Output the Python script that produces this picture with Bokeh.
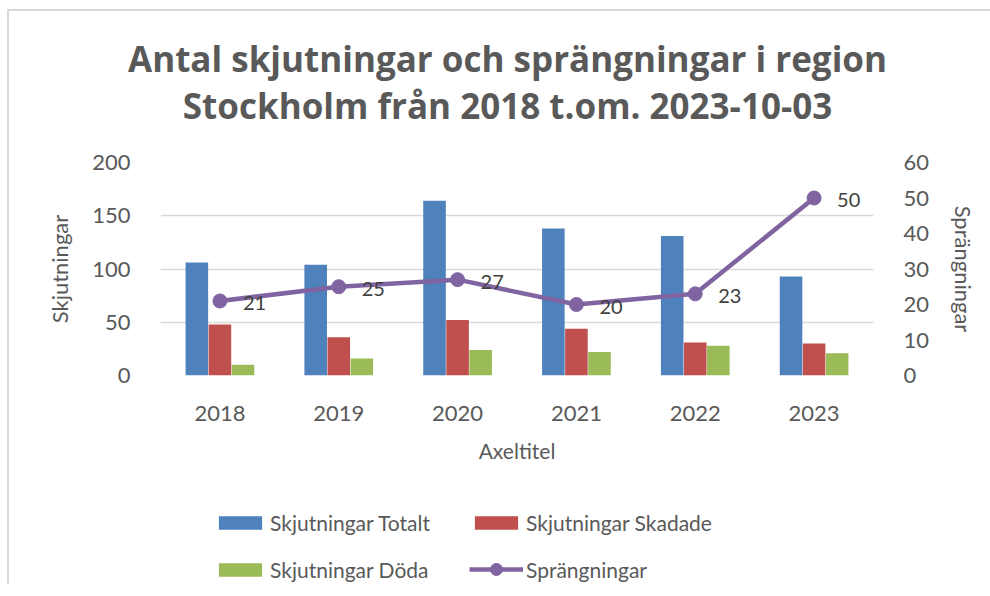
from bokeh.plotting import figure
from bokeh.layouts import column
from bokeh.models import (ColumnDataSource, FactorRange, Range1d, LinearAxis, FixedTicker,
                          LabelSet, Legend, LegendItem, GlobalInlineStyleSheet)
from bokeh.core.properties import value
from bokeh.transform import dodge
from bokeh.embed import file_html
from bokeh.resources import INLINE

title_lines = ["Antal skjutningar och sprängningar i region",
               "Stockholm från 2018 t.om. 2023-10-03"]
years = ["2018", "2019", "2020", "2021", "2022", "2023"]
totalt = [106, 104, 164, 138, 131, 93]
skadade = [48, 36, 52, 44, 31, 30]
doda = [10, 16, 24, 22, 28, 21]
sprang = [21, 25, 27, 20, 23, 50]
spr_labels = [str(v) for v in sprang]
series_names = ["Skjutningar Totalt", "Skjutningar Skadade", "Skjutningar Döda", "Sprängningar"]

BLUE = "#4F81BD"
RED = "#C0504D"
GREEN = "#9BBB59"
PURPLE = "#8064A2"
TXT = "#595959"
GRID = "#D9D9D9"
FONT = "Lato"
W = 990

src = ColumnDataSource(dict(years=years, totalt=totalt, skadade=skadade, doda=doda,
                            sprang=sprang, lab=spr_labels))


def bare(fig):
    fig.outline_line_color = None
    fig.xgrid.grid_line_color = None
    fig.ygrid.grid_line_color = None
    fig.border_fill_color = None
    fig.background_fill_color = None
    if "frame_align" in fig.properties():
        fig.frame_align = False


# ---------- header with the two-line title ----------
HH = 140
hd = figure(width=W, height=HH, x_range=Range1d(0, W), y_range=Range1d(HH, 0),
            output_backend="svg", toolbar_location=None, x_axis_type=None, y_axis_type=None,
            min_border=0)
bare(hd)
hd.text(x=[507, 507], y=[58, 105], text=title_lines, text_align="center",
        text_baseline="middle", text_font=value("Open Sans"), text_font_size="35px",
        text_font_style="bold", text_color=TXT)

# ---------- main chart ----------
p = figure(x_range=FactorRange(*years, range_padding=0), y_range=Range1d(0, 200),
           width=W, height=330, output_backend="svg", toolbar_location=None,
           min_border_left=160, min_border_right=W - 873, min_border_top=22,
           min_border_bottom=95)
p.outline_line_color = None
p.border_fill_color = None
if "frame_align" in p.properties():
    p.frame_align = False
p.extra_y_ranges = {"spr": Range1d(0, 60)}

bw = 0.19
off = 0.194
r1 = p.vbar(x=dodge("years", -off, range=p.x_range), top="totalt", width=bw, source=src,
            fill_color=BLUE, line_color=None)
r2 = p.vbar(x=dodge("years", 0, range=p.x_range), top="skadade", width=bw, source=src,
            fill_color=RED, line_color=None)
r3 = p.vbar(x=dodge("years", off, range=p.x_range), top="doda", width=bw, source=src,
            fill_color=GREEN, line_color=None)
r4 = p.line(x="years", y="sprang", source=src, y_range_name="spr", line_color=PURPLE,
            line_width=4.5)
r5 = p.scatter(x="years", y="sprang", source=src, y_range_name="spr", size=14,
               fill_color=PURPLE, line_color=PURPLE)

labels = LabelSet(x="years", y="sprang", text="lab", source=src, y_range_name="spr",
                  x_offset=23, y_offset=-2, text_align="left", text_baseline="middle",
                  text_font=value(FONT), text_font_size="20px", text_color="#404040")
p.add_layout(labels)

left = p.yaxis[0]
left.ticker = FixedTicker(ticks=[0, 50, 100, 150, 200])
left.axis_label = "Skjutningar"
right = LinearAxis(y_range_name="spr", ticker=FixedTicker(ticks=[0, 10, 20, 30, 40, 50, 60]),
                   axis_label="Sprängningar")
p.add_layout(right, "right")
xax = p.xaxis[0]
xax.axis_label = "Axeltitel"
for ax in [xax, left, right]:
    ax.axis_line_color = None
    ax.major_tick_line_color = None
    ax.minor_tick_line_color = None
    ax.major_label_text_font = FONT
    ax.major_label_text_font_size = "22px"
    ax.major_label_text_color = TXT
    ax.axis_label_text_font = FONT
    ax.axis_label_text_font_size = "22px"
    ax.axis_label_text_font_style = "normal"
    ax.axis_label_text_color = TXT
left.major_label_standoff = 24
left.axis_label_standoff = 16
right.major_label_standoff = 24
right.axis_label_standoff = 18
xax.major_label_standoff = 24
xax.axis_label_standoff = 14
xax.axis_label_text_font_size = "21px"

p.xgrid.grid_line_color = None
p.ygrid.grid_line_color = GRID
p.ygrid.grid_line_width = 1.5

# ---------- legend strip (same series, drawn out of view; only the legend shows) ----------
LH = 114
lp = figure(width=W, height=LH, x_range=FactorRange(*years, range_padding=0),
            y_range=Range1d(1000, 1100), output_backend="svg", toolbar_location=None,
            x_axis_type=None, y_axis_type=None, min_border=0)
bare(lp)
e1 = lp.vbar(x="years", top="totalt", width=bw, source=src, fill_color=BLUE, line_color=None)
e2 = lp.vbar(x="years", top="skadade", width=bw, source=src, fill_color=RED, line_color=None)
e3 = lp.vbar(x="years", top="doda", width=bw, source=src, fill_color=GREEN, line_color=None)
e4 = lp.line(x="years", y="sprang", source=src, line_color=PURPLE, line_width=4.5)
e5 = lp.scatter(x="years", y="sprang", source=src, size=14, fill_color=PURPLE,
                line_color=PURPLE)

common = dict(orientation="vertical", glyph_width=54, label_standoff=3, label_height=26,
              padding=0, margin=0, border_line_color=None, background_fill_alpha=0,
              label_text_font=FONT, label_text_font_size="21px", label_text_color=TXT)
legs = [
    Legend(items=[LegendItem(label=series_names[0], renderers=[e1])],
           location=(213, 49), glyph_height=17, **common),
    Legend(items=[LegendItem(label=series_names[1], renderers=[e2])],
           location=(469, 49), glyph_height=17, **common),
    Legend(items=[LegendItem(label=series_names[2], renderers=[e3])],
           location=(213, 2), glyph_height=17, **common),
    Legend(items=[LegendItem(label=series_names[3], renderers=[e4, e5])],
           location=(469, 0), glyph_height=30, **common),
]
for lg in legs:
    lp.add_layout(lg)

layout = column(hd, p, lp, spacing=0)
layout.styles = {
    "background": "linear-gradient(#D9D9D9, #D9D9D9) 7px 9px / 2px 100% no-repeat, "
                  "linear-gradient(#D9D9D9, #D9D9D9) 7px 9px / 100% 2px no-repeat, white",
}
layout.stylesheets = [GlobalInlineStyleSheet(css="html, body { overflow: hidden !important; }")]

open("out.html", "w").write(file_html(layout, INLINE))
